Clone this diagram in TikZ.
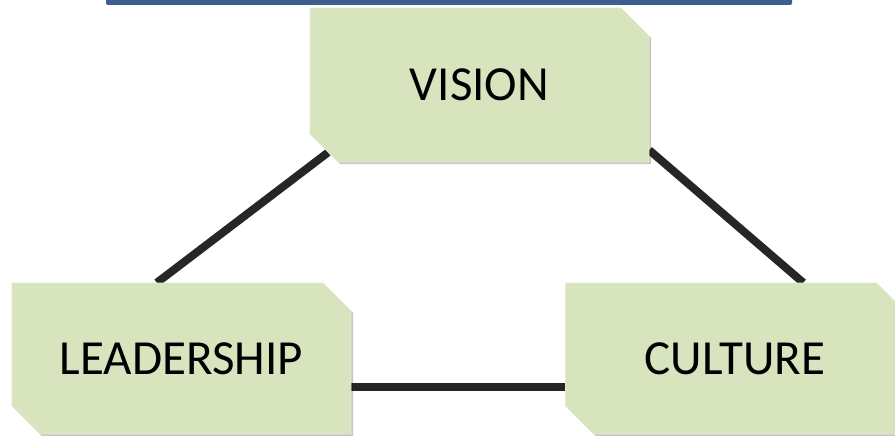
\documentclass[tikz,border=0pt]{standalone}
\usepackage{fontspec}
\setmainfont{Carlito}
\usetikzlibrary{shapes.misc,shadows,backgrounds}
\definecolor{boxgreen}{HTML}{D7E4BD}
\definecolor{barblue}{HTML}{3B5E8C}
\definecolor{linkgray}{HTML}{262626}
\tikzset{
  box/.style={chamfered rectangle, chamfered rectangle corners={north east,south west},
    chamfered rectangle xsep=14pt, chamfered rectangle ysep=14pt,
    fill=boxgreen, draw=boxgreen!70!white, line width=0.6pt,
    minimum width=339pt, inner sep=0pt, font=\fontsize{49}{54}\selectfont,
    drop shadow={shadow xshift=2pt, shadow yshift=-2pt, fill=black, opacity=0.22}},
  link/.style={draw=linkgray, line width=8pt}
}
\begin{document}
\begin{tikzpicture}[x=1pt, y=-1pt]
	\useasboundingbox (0,0) rectangle (895,436);
	\fill[barblue, rounded corners=2pt] (106,-10) rectangle (792,5);
	
	\node[box, minimum height=154pt] (V) at (479.5,85) {VISION};
	\node[box, minimum height=151pt] (L) at (181.5,358.5) {LEADERSHIP};
	\node[box, minimum height=151pt] (C) at (735,358.5) {CULTURE};
	
	\begin{pgfonlayer}{background}
	\path [link] (L.108) edge (V.204);
	\path [link] (V.-21) edge (C.48);
	\path [link] ([yshift=-28.5pt]L.east) edge ([yshift=-28.5pt]C.west);
	\end{pgfonlayer}
\end{tikzpicture}
\end{document}
